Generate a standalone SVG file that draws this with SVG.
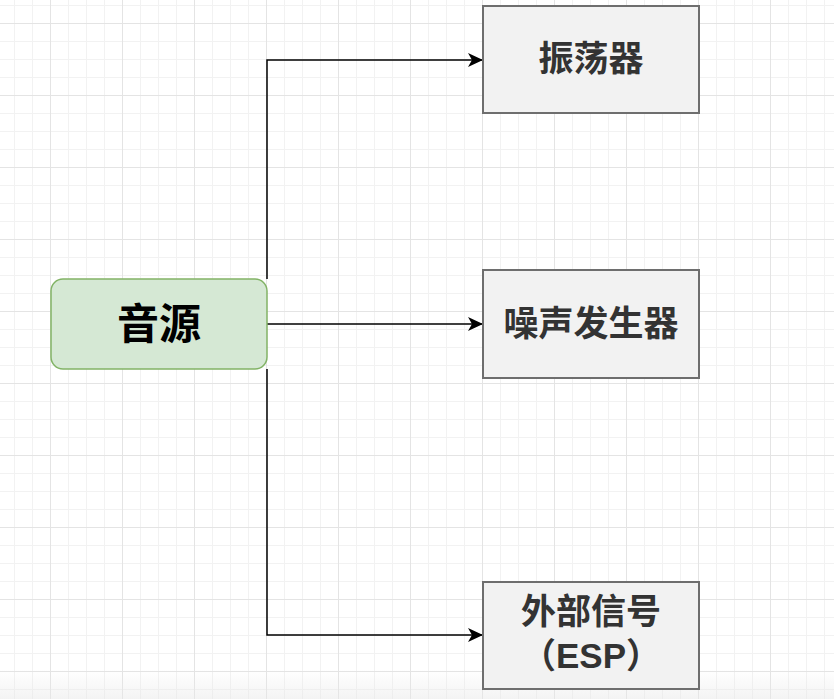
<svg xmlns="http://www.w3.org/2000/svg" width="834" height="699" viewBox="0 0 834 699">
  <defs>
    <!-- background grid: minor every 18px, major every 72px -->
    <pattern id="grid" x="50" y="23" width="72" height="72" patternUnits="userSpaceOnUse">
      <path d="M18.5 0V72M36.5 0V72M54.5 0V72M0 18.5H72M0 36.5H72M0 54.5H72" stroke="#f2f2f2" stroke-width="1" fill="none"/>
      <path d="M0.5 0V72M0 0.5H72" stroke="#e4e4e4" stroke-width="1" fill="none"/>
    </pattern>
    <linearGradient id="fade" x1="0" y1="0" x2="0" y2="1">
      <stop offset="0" stop-color="#e8e8e8" stop-opacity="0"/>
      <stop offset="1" stop-color="#e8e8e8" stop-opacity="0.5"/>
    </linearGradient>
    <marker id="arrow" viewBox="0 0 16 14" refX="15" refY="7" markerWidth="16" markerHeight="14" markerUnits="userSpaceOnUse" orient="auto">
      <path d="M0 0L15 7L0 14L4 7Z" fill="#000"/>
    </marker>
    <style>
      .edge { fill: none; stroke: #000; stroke-width: 1.5; }
      .box { fill: #f2f2f2; stroke: #6e6e6e; stroke-width: 2; }
      .src { fill: #d5e8d4; stroke: #82b366; stroke-width: 1.5; }
      .label { font-family: "Noto Sans CJK SC", "Noto Sans", sans-serif; font-weight: bold; text-anchor: middle; }
      .latin { font-family: "Liberation Sans", "Noto Sans CJK SC", sans-serif; }
      .dark { fill: #333333; font-size: 35px; }
    </style>
  </defs>

  <rect width="834" height="699" fill="#ffffff"/>
  <rect width="834" height="699" fill="url(#grid)"/>
  <rect y="670" width="834" height="29" fill="url(#fade)"/>

  <!-- connectors -->
  <g id="connectors">
    <path class="edge" d="M267 279V60H483" marker-end="url(#arrow)"/>
    <path class="edge" d="M267 324H483" marker-end="url(#arrow)"/>
    <path class="edge" d="M267 369V635H483" marker-end="url(#arrow)"/>
  </g>

  <g id="source">
    <rect class="src" x="51" y="279" width="216" height="90" rx="12" ry="12"/>
    <text class="label" x="159" y="339" font-size="42" fill="#000">音源</text>
  </g>

  <g id="oscillator">
    <rect class="box" x="483" y="6" width="216" height="107"/>
    <text class="label dark" x="591" y="71">振荡器</text>
  </g>

  <g id="noise">
    <rect class="box" x="483" y="270" width="216" height="108"/>
    <text class="label dark" x="591" y="336">噪声发生器</text>
  </g>

  <g id="external">
    <rect class="box" x="483" y="582" width="216" height="107"/>
    <text class="label dark" x="591" y="624">外部信号</text>
    <text class="label latin dark" x="591" y="668">（ESP）</text>
  </g>
</svg>
